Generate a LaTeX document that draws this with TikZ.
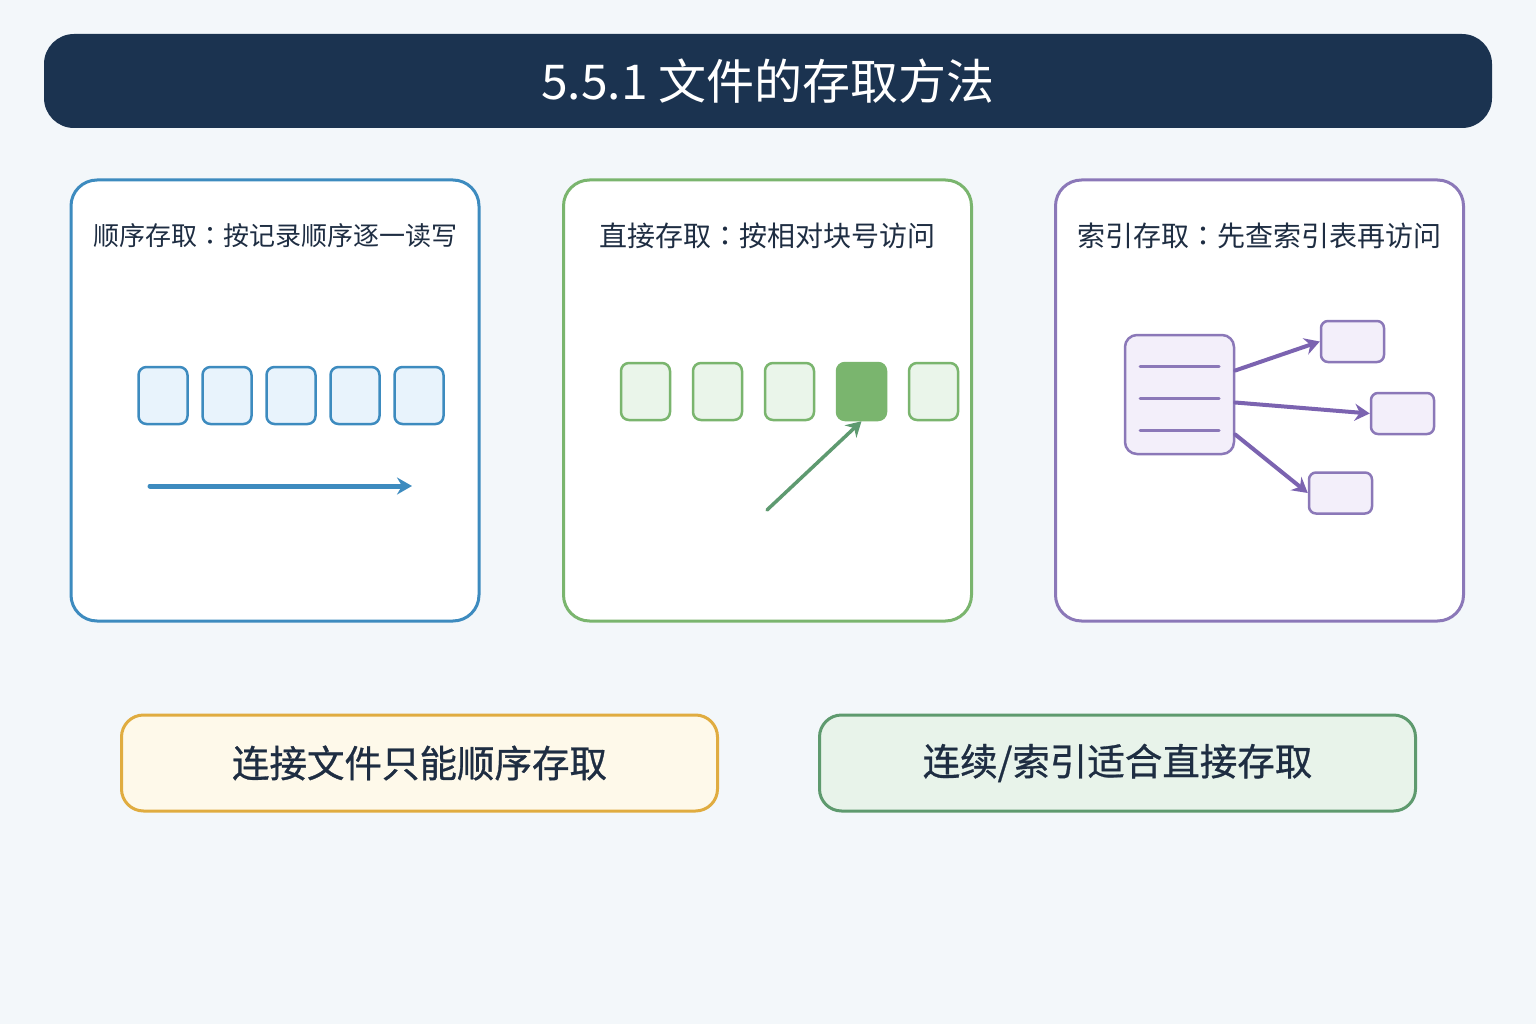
\documentclass[tikz,border=0pt]{standalone}
\usepackage{fontspec}
\setmainfont{Noto Sans CJK SC}
\newfontfamily\colonfont{Noto Sans CJK TC}
\newfontfamily\notefont{Noto Sans CJK SC}[FakeBold=0.8]
\usepackage{xcolor}
\usepackage{tikz}
\usetikzlibrary{calc,arrows.meta}

\definecolor{bgcol}{HTML}{F3F7FA}
\definecolor{titlecol}{HTML}{1B3350}
\definecolor{textcol}{HTML}{1E2D42}
\definecolor{seqcol}{HTML}{3D8BBF}
\definecolor{seqfill}{HTML}{E8F3FC}
\definecolor{dircol}{HTML}{7AB56E}
\definecolor{dirfill}{HTML}{EAF5EA}
\definecolor{dirarrow}{HTML}{5E9A70}
\definecolor{idxcol}{HTML}{8B78B8}
\definecolor{idxfill}{HTML}{F3EFFA}
\definecolor{idxarrow}{HTML}{7B63B0}
\definecolor{noteAcol}{HTML}{E0AC40}
\definecolor{noteAfill}{HTML}{FEF9EA}
\definecolor{noteBcol}{HTML}{5E9A6E}
\definecolor{noteBfill}{HTML}{E8F3EA}
\newcommand{\cc}{{\colonfont ：}}

\begin{document}
\begin{tikzpicture}[x=1pt,y=-1pt,line cap=round,
  panel/.style={draw,line width=3pt,fill=white,rounded corners=26pt,
    minimum width=408pt,minimum height=441pt,inner sep=0pt},
  paneltitle/.style={text=textcol,font=\fontsize{28}{32}\selectfont,inner sep=0pt},
  cell/.style={draw,line width=2.5pt,rounded corners=8pt,inner sep=0pt,
    minimum width=49pt,minimum height=57pt},
  tab/.style={draw=idxcol,fill=idxfill,line width=2.5pt,rounded corners=7pt,
    inner sep=0pt,minimum width=63pt,minimum height=41pt},
  note/.style={draw,line width=3pt,rounded corners=22pt,minimum width=596pt,
    minimum height=96pt,text=textcol,font=\notefont\fontsize{37.5}{42}\selectfont},
  tip/.style={-{Stealth[length=15pt,width=17pt,inset=5pt]}}]
% background
\fill[bgcol] (0,0) rectangle (1536,1024);
\useasboundingbox (0,0) rectangle (1536,1024);
% title bar
\node[fill=titlecol,rounded corners=30pt,minimum width=1448pt,minimum height=94pt,
  text=white,font=\fontsize{48}{56}\selectfont] (title) at (768,81) {5.5.1 文件的存取方法};
% three panels
\node[panel,draw=seqcol] (pseq) at (275,400.5) {};
\node[panel,draw=dircol] (pdir) at (767.5,400.5) {};
\node[panel,draw=idxcol] (pidx) at (1259.5,400.5) {};
\node[paneltitle,font=\fontsize{26}{30}\selectfont] (tseq) at (275,236) {顺序存取\cc 按记录顺序逐一读写};
\node[paneltitle] (tdir) at (767.5,236) {直接存取\cc 按相对块号访问};
\node[paneltitle] (tidx) at (1259.5,236) {索引存取\cc 先查索引表再访问};
% sequential access
\foreach \i in {1,...,5}
  \node[cell,draw=seqcol,fill=seqfill] (s\i) at ({163+64*(\i-1)},395.5) {};
\coordinate (sa) at (150,486);
\coordinate (sb) at (412,486);
\draw[tip,seqcol,line width=5pt] (sa) -- (sb);
% direct access
\foreach \i in {1,2,3,5}
  \node[cell,draw=dircol,fill=dirfill] (d\i) at ({645.5+72*(\i-1)},391.5) {};
\node[cell,draw=dircol,fill=dircol] (d4) at (861.5,391.5) {};
\coordinate (da) at (767,510);
\draw[tip,dirarrow,line width=3.5pt] (da) -- (d4.south);
% index access
\node[draw=idxcol,fill=idxfill,line width=2.5pt,rounded corners=12pt,inner sep=0pt,
  minimum width=109pt,minimum height=119pt] (idx) at (1179.5,394.5) {};
\foreach \y in {366,398,430}
  \draw[idxcol,line width=3pt] (1140,\y) -- (1219,\y);
\node[tab] (ta) at (1352.5,341.5) {};
\node[tab] (tb) at (1402.5,413.5) {};
\node[tab] (tc) at (1340.5,493) {};
\draw[tip,idxarrow,line width=4pt] ([yshift=24pt]idx.east) -- (ta.west);
\draw[tip,idxarrow,line width=4pt] ([yshift=-8pt]idx.east) -- (tb.west);
\draw[tip,idxarrow,line width=4pt] ([yshift=-40pt]idx.east) -- (tc.west);
% summary notes
\node[note,draw=noteAcol,fill=noteAfill] (na) at (419.5,763) {连接文件只能顺序存取};
\node[note,draw=noteBcol,fill=noteBfill] (nb) at (1117.5,763) {连续/索引适合直接存取};
\end{tikzpicture}
\end{document}
